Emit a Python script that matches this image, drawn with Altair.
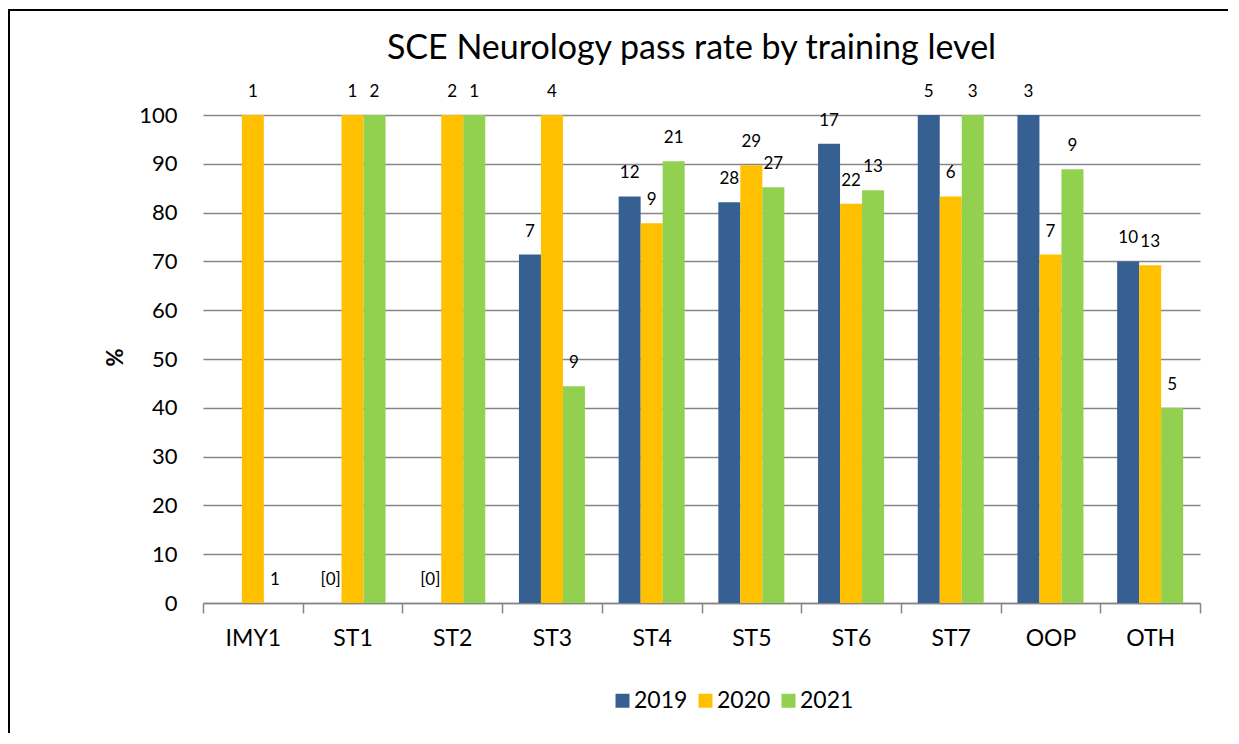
import altair as alt
import pandas as pd

categories = ["IMY1", "ST1", "ST2", "ST3", "ST4", "ST5", "ST6", "ST7", "OOP", "OTH"]
years = ["2019", "2020", "2021"]
pass_2019 = [None, 0, 0, 71.4, 83.3, 82.1, 94.1, 100, 100, 70.0]
pass_2020 = [100, 100, 100, 100, 77.8, 89.7, 81.8, 83.3, 71.4, 69.2]
pass_2021 = [0, 100, 100, 44.4, 90.5, 85.2, 84.6, 100, 88.9, 40.0]
n_2019 = ["", "[0]", "[0]", "7", "12", "28", "17", "5", "3", "10"]
n_2020 = ["1", "1", "2", "4", "9", "29", "22", "6", "7", "13"]
n_2021 = ["1", "2", "1", "9", "21", "27", "13", "3", "9", "5"]
colors = ["#376092", "#FFC000", "#92D050"]

rows = []
for yr, vals, ns in zip(years, [pass_2019, pass_2020, pass_2021], [n_2019, n_2020, n_2021]):
    for cat, v, n in zip(categories, vals, ns):
        if v is None:
            continue
        rows.append({"level": cat, "year": yr, "rate": v, "n": n})
df = pd.DataFrame(rows)

FONT = "Lato"

x_enc = alt.X(
    "level:N",
    sort=categories,
    scale=alt.Scale(paddingInner=0, paddingOuter=0),
    axis=alt.Axis(
        title=None,
        tickBand="extent",
        domainColor="#868686",
        domainWidth=1.5,
        tickColor="#868686",
        tickWidth=1.5,
        tickSize=10,
        labelPadding=14,
        labelFontSize=23,
        labelColor="#000000",
        labelFont=FONT,
        labelAngle=0,
        grid=False,
    ),
)
xoff = alt.XOffset("year:N", sort=years, scale=alt.Scale(paddingInner=0, paddingOuter=0.766))
y_enc = alt.Y(
    "rate:Q",
    scale=alt.Scale(domain=[0, 100], nice=False),
    axis=alt.Axis(
        title="%",
        values=list(range(0, 101, 10)),
        domain=False,
        ticks=False,
        labelPadding=26,
        labelFontSize=22,
        labelColor="#000000",
        labelFont=FONT,
        grid=True,
        gridColor="#868686",
        gridWidth=1.5,
        titleFont=FONT,
        titleFontSize=22,
        titleFontWeight="bold",
        titleColor="#000000",
        titleX=-88,
        titleY=242,
        titleAngle=270,
        titleAlign="center",
        titleBaseline="middle",
    ),
)

bars = alt.Chart(df).mark_bar().encode(
    x=x_enc,
    xOffset=xoff,
    y=y_enc,
    color=alt.Color(
        "year:N",
        sort=years,
        scale=alt.Scale(domain=years, range=colors),
        legend=alt.Legend(
            title=None,
            orient="none",
            legendX=408,
            legendY=574,
            direction="horizontal",
            symbolType="square",
            symbolSize=196,
            symbolStrokeWidth=0,
            labelFontSize=23,
            labelFont=FONT,
            labelColor="#000000",
            labelOffset=0,
            columnPadding=6,
        ),
    ),
)

labels = alt.Chart(df).mark_text(
    baseline="middle", align="center", dy=-23, fontSize=17, font=FONT, color="#000000"
).encode(
    x=alt.X("level:N", sort=categories),
    xOffset=alt.XOffset("year:N", sort=years),
    y="rate:Q",
    text="n:N",
)

border_data = alt.Data(values=[{"k": 1}])
left_border = alt.Chart(border_data).mark_rule(color="#000000", strokeWidth=2).encode(
    x=alt.value(-194), y=alt.value(-106), y2=alt.value(640)
)
top_border = alt.Chart(border_data).mark_rule(color="#000000", strokeWidth=2).encode(
    x=alt.value(-194), x2=alt.value(1025), y=alt.value(-105)
)

chart = (
    alt.layer(bars, labels, left_border, top_border)
    .properties(
        width=997,
        height=488,
        autosize=alt.AutoSizeParams(type="none"),
        padding={"left": 195, "top": 107, "right": 28, "bottom": 130},
        title=alt.TitleParams(
            "SCE Neurology pass rate by training level",
            font=FONT,
            fontSize=34,
            fontWeight="normal",
            color="#000000",
            anchor="middle",
            frame="group",
            baseline="alphabetic",
            offset=-85,
            dx=-10,
        ),
    )
    .configure_view(stroke=None)
)

chart.save("out.html", embed_options={"renderer": "svg", "actions": False})
